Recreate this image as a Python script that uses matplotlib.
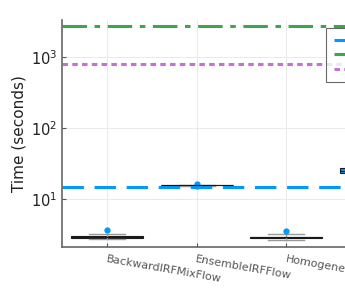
import matplotlib
matplotlib.use("Agg")
import matplotlib.pyplot as plt

# categories (4th label is cut off at the right edge of the figure)
methods = ["BackwardIRFMixFlow", "EnsembleIRFFlow", "HomogeneousIRFFlow", "IRFMixFlow"]

# box statistics (seconds)
q1 = [2.84, 15.7, 2.84, 23.4]
med = [2.93, 15.85, 2.92, 25.0]
q3 = [3.02, 16.0, 3.00, 27.5]
whislo = [2.75, 15.6, 2.66, 23.0]
whishi = [3.23, 16.1, 3.23, 28.0]
fliers = [[3.76], [16.4, 15.3], [3.56], []]

# reference lines
ref_labels = ["Reference A", "Reference B", "Reference C"]
ref_values = [15.1, 2700, 790]

blue = "#009AFA"
green = "#3EA44E"
purple = "#C371D2"

fig = plt.figure(figsize=(3.45, 2.95), dpi=100)
ax = fig.add_axes([62 / 345, 48 / 295, 359 / 345, 227 / 295])

stats = []
for i in range(len(methods)):
    stats.append({"q1": q1[i], "med": med[i], "q3": q3[i],
                  "whislo": whislo[i], "whishi": whishi[i],
                  "fliers": fliers[i], "label": methods[i]})

pos = [i + 0.5 for i in range(len(methods))]
ax.bxp(stats, positions=pos, widths=0.8, patch_artist=True, manage_ticks=False,
       boxprops=dict(facecolor=blue, edgecolor="#1a1a1a", linewidth=0.8),
       medianprops=dict(color="#1a1a1a", linewidth=0.8),
       whiskerprops=dict(color="#999999", linewidth=1.0),
       capprops=dict(color="#999999", linewidth=1.0),
       capwidths=0.4,
       flierprops=dict(marker="o", markerfacecolor=blue, markeredgecolor=blue,
                       markersize=3.5))

ax.axhline(ref_values[0], color=blue, lw=2.2, ls=(0, (7, 3.5)), label=ref_labels[0])
ax.axhline(ref_values[1], color=green, lw=2.2, ls=(0, (8, 2.5, 1.8, 2.5)), label=ref_labels[1])
ax.axhline(ref_values[2], color=purple, lw=2.2, ls=(0, (1.8, 1.4)), label=ref_labels[2])

ax.set_yscale("log")
ax.set_ylim(2.14, 3275)
ax.set_xlim(0, len(methods))
ax.set_xticks(pos)
ax.set_xticklabels(methods, rotation=-10, ha="left", va="top",
                   rotation_mode="anchor", fontsize=8, color="#222222")
ax.set_yticks([10, 100, 1000])
ax.minorticks_off()
ax.tick_params(axis="y", labelsize=10.5, direction="in", length=3, colors="#555555",
               labelcolor="#222222")
ax.tick_params(axis="x", direction="in", length=3, colors="#555555", pad=5)
ax.set_ylabel("Time (seconds)", fontsize=11, color="#222222", labelpad=3)

ax.grid(True, color="#e6e6e6", lw=0.6)
ax.set_axisbelow(True)
for s in ["top", "right"]:
    ax.spines[s].set_visible(False)
for s in ["left", "bottom"]:
    ax.spines[s].set_color("#666666")
    ax.spines[s].set_linewidth(1.2)

leg = ax.legend(loc="upper left", bbox_to_anchor=(326 / 345, 267 / 295),
                bbox_transform=fig.transFigure, fontsize=8, frameon=True,
                fancybox=False, handlelength=2.5, borderaxespad=0,
                borderpad=0.7, labelspacing=0.4)
leg.get_frame().set_edgecolor("#444444")
leg.get_frame().set_linewidth(0.8)

fig.savefig("out.png", dpi=100)
